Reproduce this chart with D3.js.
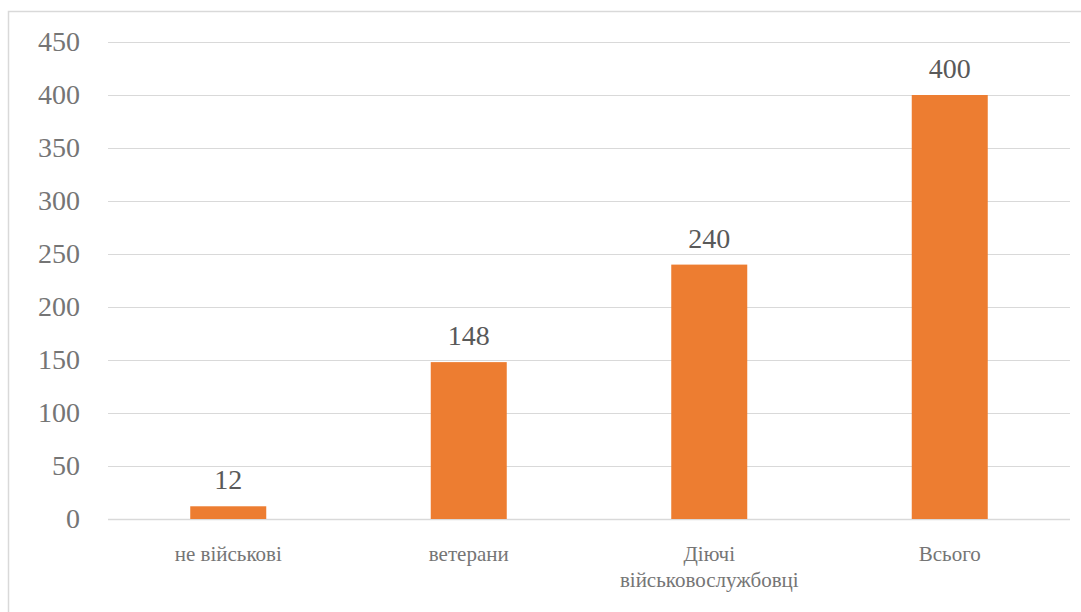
<!DOCTYPE html>
<html>
<head>
<meta charset="utf-8">
<script src="https://cdn.jsdelivr.net/npm/d3@7"></script>
<style>
  body { margin: 0; background: #fff; }
  svg { display: block; }
  svg text { font-family: "Times New Roman", "Liberation Serif", Tinos, "DejaVu Serif", serif; }
</style>
</head>
<body>
<div id="chart"></div>
<script>
const categories = ["не військові", "ветерани", "Діючі військовослужбовці", "Всього"];
const values = [12, 148, 240, 400];
const yTicks = [0, 50, 100, 150, 200, 250, 300, 350, 400, 450];

main();

function main() {
  const width = 1081;
  const height = 612;
  const margin = { top: 42, right: 11, bottom: 93, left: 108 };

  const svg = d3.select("#chart")
    .append("svg")
    .attr("width", width)
    .attr("height", height);

  // chart border
  svg.append("rect")
    .attr("x", 8.5).attr("y", 11.5)
    .attr("width", width + 10).attr("height", height)
    .attr("fill", "none")
    .attr("stroke", "#d9d9d9")
    .attr("stroke-width", 1.5);

  const x = d3.scaleBand()
    .domain(categories)
    .range([margin.left, width - margin.right])
    .paddingInner(0.684)
    .paddingOuter(0.342);

  const y = d3.scaleLinear()
    .domain([0, 450])
    .range([height - margin.bottom, margin.top]);

  // gridlines
  svg.append("g")
    .selectAll("line")
    .data(yTicks)
    .join("line")
    .attr("x1", margin.left).attr("x2", width - margin.right)
    .attr("y1", d => Math.round(y(d)) + 0.5)
    .attr("y2", d => Math.round(y(d)) + 0.5)
    .attr("stroke", "#d9d9d9")
    .attr("stroke-width", d => d === 0 ? 1.5 : 1);

  // y axis labels
  const yAxis = d3.axisLeft(y).tickValues(yTicks).tickSize(0).tickPadding(0);
  const gy = svg.append("g")
    .attr("transform", `translate(80,0)`)
    .call(yAxis);
  gy.select(".domain").remove();
  gy.selectAll("text")
    .attr("font-family", null)
    .attr("font-size", 28)
    .attr("fill", "#757575");
  gy.attr("font-family", null);

  // bars
  svg.append("g")
    .selectAll("rect")
    .data(values)
    .join("rect")
    .attr("x", (d, i) => x(categories[i]))
    .attr("y", d => y(d))
    .attr("width", x.bandwidth())
    .attr("height", d => y(0) - y(d))
    .attr("fill", "#ED7D31");

  // data labels
  svg.append("g")
    .selectAll("text")
    .data(values)
    .join("text")
    .attr("x", (d, i) => x(categories[i]) + x.bandwidth() / 2)
    .attr("y", d => y(d) - 17)
    .attr("text-anchor", "middle")
    .attr("font-size", 28)
    .attr("fill", "#595959")
    .text(d => d);

  // category labels
  const labelLines = {
    "Діючі військовослужбовці": ["Діючі", "військовослужбовці"]
  };
  const gx = svg.append("g");
  categories.forEach(c => {
    const lines = labelLines[c] || [c];
    const t = gx.append("text")
      .attr("x", x(c) + x.bandwidth() / 2)
      .attr("y", 561)
      .attr("text-anchor", "middle")
      .attr("font-size", 21)
      .attr("fill", "#757575");
    lines.forEach((l, i) => {
      t.append("tspan")
        .attr("x", x(c) + x.bandwidth() / 2)
        .attr("dy", i === 0 ? 0 : 26)
        .text(l);
    });
  });
}
</script>
</body>
</html>
